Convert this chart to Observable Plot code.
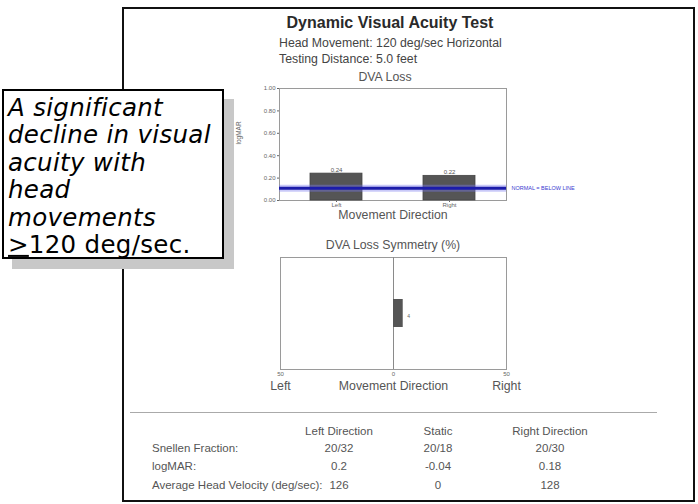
<!DOCTYPE html>
<html>
<head>
<meta charset="utf-8">
<script src="https://cdn.jsdelivr.net/npm/d3@7"></script>
<script src="https://cdn.jsdelivr.net/npm/@observablehq/plot@0.6"></script>
<style>
  html, body { margin: 0; padding: 0; background: #fff; }
  body { width: 698px; height: 504px; position: relative; overflow: hidden; font-family: "Liberation Sans", Arial, sans-serif; }
  .t { position: absolute; white-space: nowrap; }
  .chart { position: absolute; }
</style>
</head>
<body>
<div id="page" style="position:absolute;left:122px;top:7px;width:569px;height:491px;border:2px solid #111;background:#fff;"></div>
<div id="root"></div>
<script>
// ---------- data ----------
const reportTitle = "Dynamic Visual Acuity Test";
const headerLines = ["Head Movement: 120 deg/sec Horizontal", "Testing Distance: 5.0 feet"];
const lossTitle = "DVA Loss";
const directions = ["Left", "Right"];
const dvaLoss = [0.24, 0.22];
const dvaLossLabels = ["0.24", "0.22"];
const normalLimit = 0.11;
const normalText = "NORMAL = BELOW LINE";
const lossTicks = [0, 0.2, 0.4, 0.6, 0.8, 1.0];
const lossAxisLabel = "logMAR";
const xAxisLabel = "Movement Direction";

const symmetryTitle = "DVA Loss Symmetry (%)";
const symmetryPct = [4.3];
const symmetryLabels = ["4"];
const symmetryTicks = [-50, 0, 50];
const sideNames = ["Left", "Right"];
const sidePositions = [-50, 50];

const tableColumns = ["Left Direction", "Static", "Right Direction"];
const tableRowLabels = ["Snellen Fraction:", "logMAR:", "Average Head Velocity (deg/sec):"];
const snellen = ["20/32", "20/18", "20/30"];
const logmar = ["0.2", "-0.04", "0.18"];
const headVelocity = ["126", "0", "128"];

const calloutLines = ["A significant", "decline in visual", "acuity with", "head", "movements"];
const calloutLast = "120 deg/sec.";

// ---------- helpers ----------
const root = document.getElementById("root");
function addText(txt, o) {
  const d = document.createElement("div");
  d.className = "t";
  d.textContent = txt;
  const size = o.size || 12.5;
  d.style.fontSize = size + "px";
  d.style.lineHeight = "1.15";
  d.style.color = o.color || "#555";
  if (o.weight) d.style.fontWeight = o.weight;
  if (o.family) d.style.fontFamily = o.family;
  d.style.left = o.x + "px";
  d.style.top = o.y + "px";
  const ax = o.anchor === "middle" ? "-50%" : (o.anchor === "end" ? "-100%" : "0");
  d.style.transform = `translate(${ax}, -50%)`;
  (o.parent || root).appendChild(d);
  return d;
}

// ---------- header texts ----------
addText(reportTitle, {x: 390, y: 23, anchor: "middle", size: 16, weight: "bold", color: "#2a2a2a"});
addText(headerLines[0], {x: 279, y: 43, size: 12.3, color: "#444"});
addText(headerLines[1], {x: 279, y: 59, size: 12.3, color: "#444"});
addText(lossTitle, {x: 385, y: 77, anchor: "middle", size: 12.3, color: "#555"});
addText(symmetryTitle, {x: 393, y: 245, anchor: "middle", size: 12.3, color: "#555"});

// ---------- chart 1: DVA Loss ----------
const lossRows = directions.map((d, i) => ({dir: d, loss: dvaLoss[i], label: dvaLossLabels[i]}));
const chart1 = Plot.plot({
  width: 370, height: 150,
  marginLeft: 49, marginRight: 94, marginTop: 6, marginBottom: 32,
  style: {fontFamily: "Liberation Sans, Arial, sans-serif", fontSize: "6px", color: "#666", background: "transparent", overflow: "visible"},
  x: {domain: directions, paddingInner: 0.54, paddingOuter: 0.27, label: null, tickSize: 2, tickPadding: 0},
  y: {domain: [0, 1], ticks: lossTicks, tickFormat: d => d.toFixed(2), tickSize: 2, tickPadding: 2, label: null},
  marks: [
    Plot.frame({stroke: "#9a9a9a"}),
    Plot.barY(lossRows, {x: "dir", y: "loss", fill: "#555", stroke: "#444", strokeWidth: 0.8}),
    Plot.text(lossRows, {x: "dir", y: "loss", text: "label", dy: -4, fontSize: 6, fill: "#555"}),
    Plot.ruleY([normalLimit], {stroke: "#7a7aee", strokeWidth: 7, strokeOpacity: 0.4}),
    Plot.ruleY([normalLimit], {stroke: "#1c1caa", strokeWidth: 3}),
    Plot.text([normalLimit], {y: d => d, text: () => normalText, frameAnchor: "right", dx: 5, textAnchor: "start", fontSize: 5.5, fill: "#3a3ad0"}),
    Plot.text([lossAxisLabel], {text: d => d, frameAnchor: "left", dx: -41, rotate: -90, fontSize: 6.5, fill: "#666"}),
    Plot.text([xAxisLabel], {text: d => d, frameAnchor: "bottom", dy: 18.5, fontSize: 12.3, fill: "#555"})
  ]
});
chart1.classList.add("chart");
chart1.style.left = "230px";
chart1.style.top = "82px";
root.appendChild(chart1);

// ---------- chart 2: DVA Loss Symmetry ----------
const symRows = symmetryPct.map((v, i) => ({key: "sym", pct: v, label: symmetryLabels[i]}));
const sideRows = sideNames.map((n, i) => ({name: n, at: sidePositions[i]}));
const chart2 = Plot.plot({
  width: 370, height: 150,
  marginLeft: 50, marginRight: 94, marginTop: 7, marginBottom: 31,
  style: {fontFamily: "Liberation Sans, Arial, sans-serif", fontSize: "6px", color: "#666", background: "transparent", overflow: "visible"},
  x: {domain: [-50, 50], ticks: symmetryTicks, tickFormat: d => String(Math.abs(d)), tickSize: 0, tickPadding: 2, label: null},
  y: {domain: ["sym"], padding: 0.6, axis: null},
  marks: [
    Plot.frame({stroke: "#9a9a9a"}),
    Plot.ruleX([0], {stroke: "#8a8a8a"}),
    Plot.barX(symRows, {x: "pct", y: "key", fill: "#555"}),
    Plot.text(symRows, {x: "pct", y: "key", text: "label", dx: 4, dy: 3, fontSize: 5, textAnchor: "start", fill: "#666"}),
    Plot.text(sideRows, {x: "at", text: "name", frameAnchor: "bottom", dy: 20, fontSize: 12.3, fill: "#555"}),
    Plot.text([xAxisLabel], {text: d => d, frameAnchor: "bottom", dy: 20, fontSize: 12.3, fill: "#555"})
  ]
});
chart2.classList.add("chart");
chart2.style.left = "230px";
chart2.style.top = "250px";
root.appendChild(chart2);

// ---------- table ----------
const sep = document.createElement("div");
sep.style.cssText = "position:absolute;left:130px;top:412px;width:527px;height:0;border-top:1.5px solid #aaa;";
root.appendChild(sep);
const colX = [339, 438, 550];
const rowY = [449, 467, 486];
tableColumns.forEach((c, i) => addText(c, {x: colX[i], y: 432, anchor: "middle", size: 11.5, color: "#555"}));
const rowsData = [snellen, logmar, headVelocity];
tableRowLabels.forEach((r, j) => {
  addText(r, {x: 152, y: rowY[j], size: 11.5, color: "#555"});
  rowsData[j].forEach((v, i) => addText(v, {x: colX[i], y: rowY[j], anchor: "middle", size: 11.5, color: "#555"}));
});

// ---------- callout ----------
const box = document.createElement("div");
box.style.cssText = "position:absolute;left:2px;top:89px;width:218px;height:166px;border:2px solid #000;background:#fff;box-shadow:10px 10px 0 #c8c8c8;";
root.appendChild(box);
const calloutFont = '"DejaVu Sans", Verdana, sans-serif';
calloutLines.forEach((l, i) => {
  const d = addText(l, {x: 8, y: 108 + i * 27.4, size: 24.5, color: "#000", family: calloutFont});
  d.style.fontStyle = "italic";
  d.style.letterSpacing = "0.3px";
});
const last = addText("", {x: 8, y: 108 + 5 * 27.4, size: 24.5, color: "#000", family: calloutFont});
last.style.letterSpacing = "0.3px";
const ge = document.createElement("span");
ge.textContent = ">";
ge.style.textDecoration = "underline";
last.appendChild(ge);
last.appendChild(document.createTextNode(calloutLast));
</script>
</body>
</html>
